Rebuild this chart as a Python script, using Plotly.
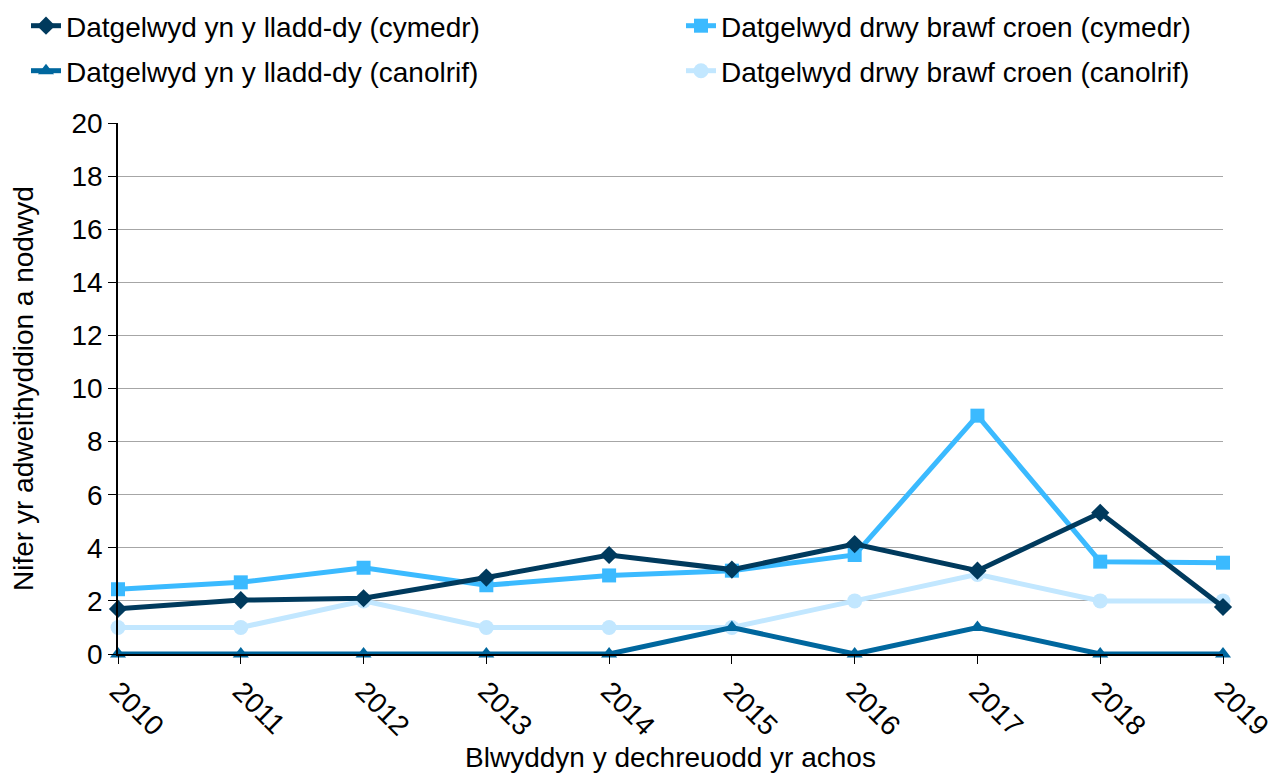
import plotly.graph_objects as go

years = ["2010", "2011", "2012", "2013", "2014", "2015", "2016", "2017", "2018", "2019"]

lladd_cymedr = [1.70, 2.03, 2.10, 2.88, 3.73, 3.18, 4.14, 3.14, 5.32, 1.77]
croen_cymedr = [2.44, 2.70, 3.25, 2.59, 2.96, 3.14, 3.73, 8.98, 3.48, 3.44]
lladd_canolrif = [0, 0, 0, 0, 0, 1, 0, 1, 0, 0]
croen_canolrif = [1, 1, 2, 1, 1, 1, 2, 3, 2, 2]

names = [
    "Datgelwyd yn y lladd-dy (cymedr)",
    "Datgelwyd drwy brawf croen (cymedr)",
    "Datgelwyd yn y lladd-dy (canolrif)",
    "Datgelwyd drwy brawf croen (canolrif)",
]

FONT = "Liberation Sans, Arial, sans-serif"
FS = 28
W, H = 1285, 776

fig = go.Figure()

# drawn back to front, one small legend box per series
series = [
    (croen_canolrif, names[3], "#C2E7FF", "circle", 15, "legend5"),
    (lladd_canolrif, names[2], "#00679E", "triangle-up", 14, "legend4"),
    (croen_cymedr, names[1], "#3BBAFF", "square", 14, "legend3"),
    (lladd_cymedr, names[0], "#003A5D", "diamond", 14, "legend2"),
]
for vals, name, color, symbol, size, leg in series:
    fig.add_trace(go.Scatter(
        x=years,
        y=vals,
        name=name,
        mode="lines+markers",
        line=dict(color=color, width=5),
        marker=dict(symbol=symbol, size=size, color=color),
        cliponaxis=False,
        showlegend=True,
        legend=leg,
    ))


def legend_at(px, py):
    return dict(
        orientation="h",
        x=px / W, y=1 - py / H, xref="container", yref="container",
        xanchor="left", yanchor="middle", font=dict(size=FS),
        bgcolor="rgba(0,0,0,0)",
    )


fig.update_layout(
    width=W,
    height=H,
    margin=dict(l=110, r=70, t=105, b=130),
    paper_bgcolor="white",
    plot_bgcolor="white",
    font=dict(family=FONT, size=FS, color="black"),
    legend2=legend_at(18, 18),
    legend3=legend_at(673, 18),
    legend4=legend_at(18, 63),
    legend5=legend_at(673, 63),
)
fig.update_xaxes(
    type="category",
    range=[0, 9],
    showline=True, linecolor="black", linewidth=1.5,
    ticks="outside", ticklen=8, tickcolor="black",
    tickangle=45,
    showgrid=False,
    title=dict(text="Blwyddyn y dechreuodd yr achos", font=dict(size=FS), standoff=2),
)
fig.update_yaxes(
    range=[0, 20],
    dtick=2,
    showline=True, linecolor="black", linewidth=1.5,
    ticks="outside", ticklen=8, tickcolor="black",
    showgrid=True, gridcolor="#A6A6A6", gridwidth=1,
    zeroline=False,
    title=dict(text="Nifer yr adweithyddion a nodwyd", font=dict(size=FS), standoff=30),
)

fig.write_html("out.html")
